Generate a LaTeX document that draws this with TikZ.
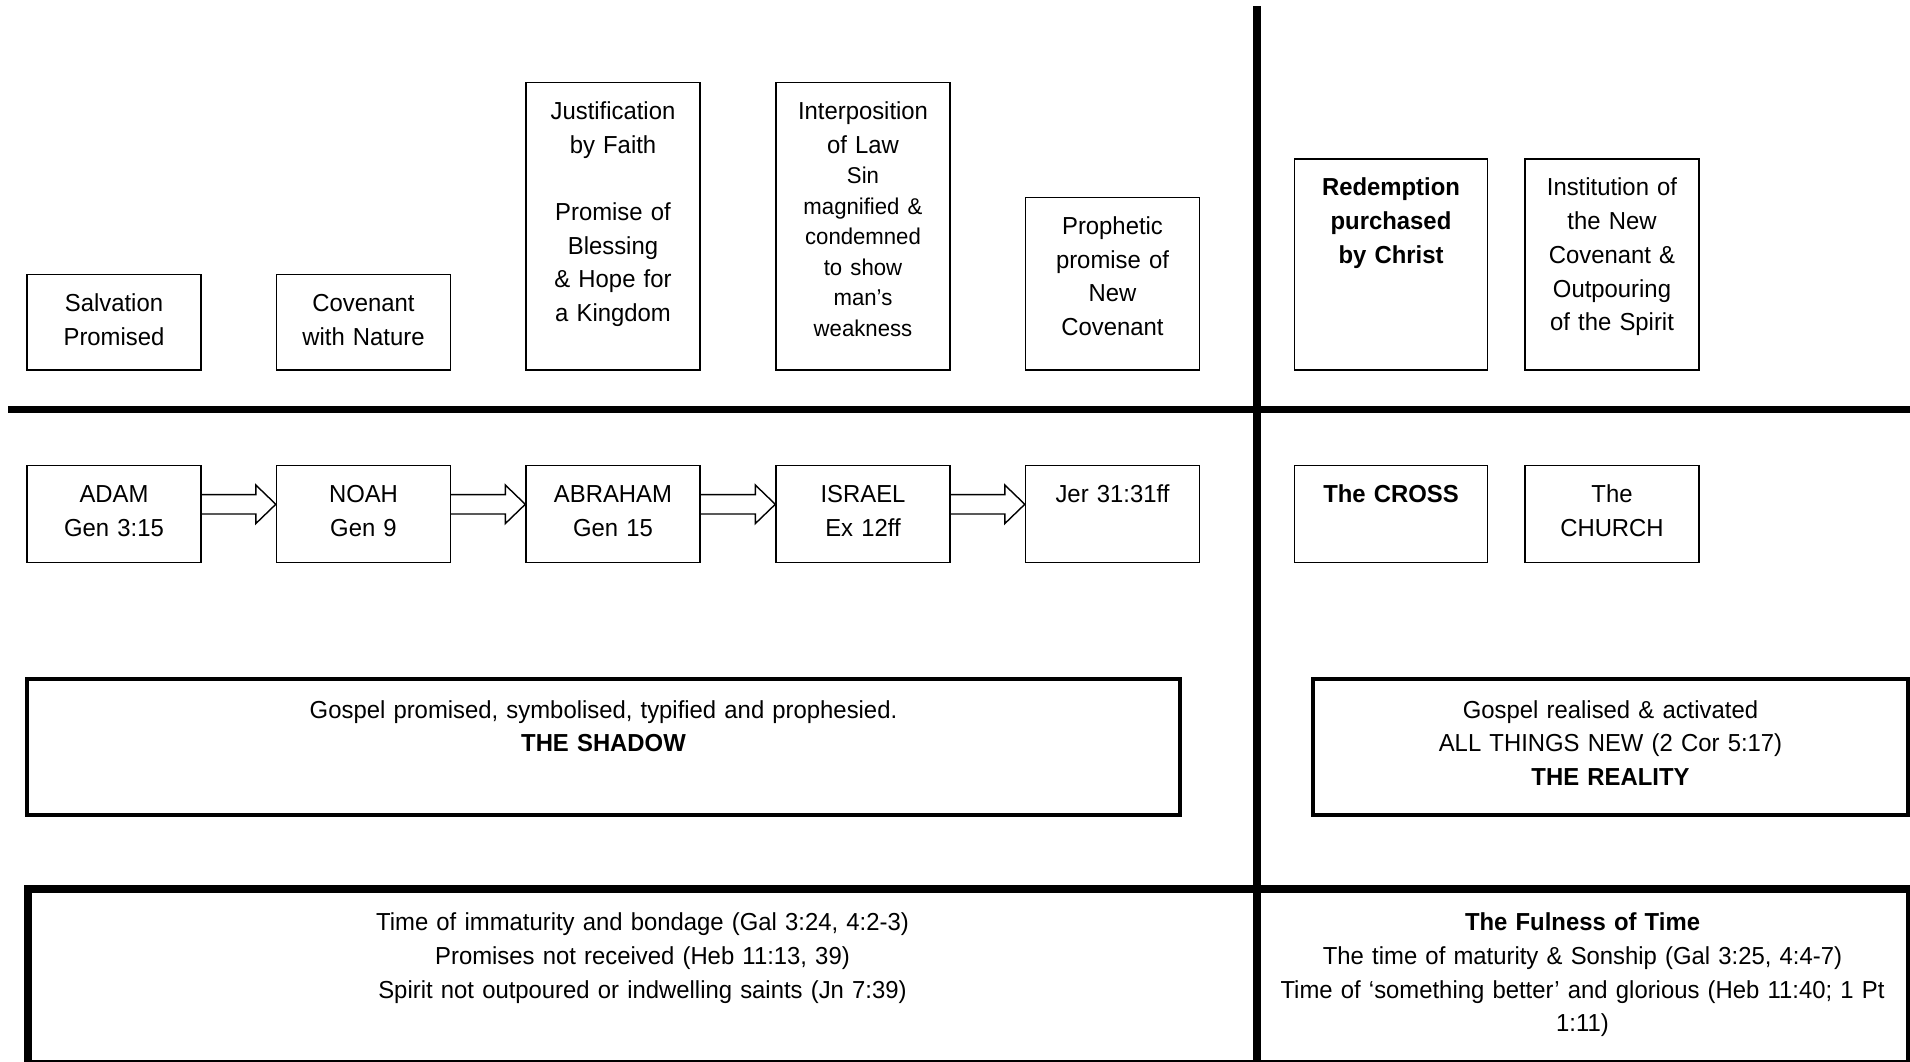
\documentclass[tikz,border=0pt]{standalone}
\usepackage{fontspec}
\setmainfont{Liberation Sans}[FakeStretch=0.97]
\usetikzlibrary{positioning}

\newcommand{\bodysize}{\fontsize{7pt}{9.6pt}\selectfont}
\newcommand{\smallsize}{\fontsize{6.5pt}{8.7pt}\selectfont}

\begin{document}
\begin{tikzpicture}[
    font=\bodysize,
    box/.style={draw, line width=.4pt, anchor=south, align=center,
      text width=1.74cm, inner sep=0pt,
      text height=3.7mm, text depth={#1-3.7mm}},
    panel/.style={draw, line width=1.15pt, anchor=north, align=center,
      inner sep=0pt, text height=3.9mm, text depth={#1-3.9mm}},
    cell/.style={anchor=north, align=center, inner sep=0pt, text height=4.1mm},
    rule/.style={line width=2.1pt},
    frame/.style={line width=1.15pt},
    hollow/.style={draw, line width=.4pt, to path={
        ([yshift=1.92mm]\tikztostart) -- ([xshift=-2mm,yshift=1.92mm]\tikztotarget)
        -- ([xshift=-2mm,yshift=2.88mm]\tikztotarget) -- ([yshift=.95mm]\tikztotarget)
        -- ([xshift=-2mm,yshift=-.98mm]\tikztotarget) -- ([xshift=-2mm,yshift=-.02mm]\tikztotarget)
        -- ([yshift=-.02mm]\tikztostart)}}
  ]

  \useasboundingbox (0,0) rectangle (19.1,10.61);
  \clip (0,0) rectangle (19.1,10.61);

  % what was given
  \begin{scope}
    \node[box=9.55mm]  (sal) at (1.14,6.905)   {Salvation\\Promised};
    \node[box=9.55mm]  (cov) at (3.635,6.905)  {Covenant\\with Nature};
    \node[box=28.75mm] (jus) at (6.13,6.905)   {Justification\\by Faith\\[9.6pt]Promise of\\Blessing\\\& Hope for\\a Kingdom};
    \node[box=28.75mm] (law) at (8.63,6.905)   {Interposition\\of Law\par\smallsize Sin\\magnified \&\\condemned\\to show\\man’s\\weakness\par};
    \node[box=17.25mm] (pro) at (11.125,6.905) {Prophetic\\promise of\\New\\Covenant};
    \node[box=21.1mm, text width=1.926cm, font=\bodysize\bfseries] (red) at (13.91,6.905) {Redemption\\purchased\\by Christ};
    \node[box=21.1mm]  (ins) at (16.12,6.905)  {Institution of\\the New\\Covenant \&\\Outpouring\\of the Spirit};
  \end{scope}

  % who and where
  \begin{scope}
    \node[box=9.7mm] (adam)   at (1.14,4.98)   {ADAM\\Gen 3:15};
    \node[box=9.7mm] (noah)   at (3.635,4.98)  {NOAH\\Gen 9};
    \node[box=9.7mm] (abr)    at (6.13,4.98)   {ABRAHAM\\Gen 15};
    \node[box=9.7mm] (isr)    at (8.63,4.98)   {ISRAEL\\Ex 12ff};
    \node[box=9.7mm] (jer)    at (11.125,4.98) {Jer 31:31ff};
    \node[box=9.7mm, text width=1.926cm, font=\bodysize\bfseries] (cross) at (13.91,4.98) {The CROSS};
    \node[box=9.7mm] (church) at (16.12,4.98)  {The\\CHURCH};

    \path (adam.east) edge[hollow] (noah.west);
    \path (noah.east) edge[hollow] (abr.west);
    \path (abr.east)  edge[hollow] (isr.west);
    \path (isr.east)  edge[hollow] (jer.west);
  \end{scope}

  \node[panel=13.6mm, text width=11.53cm] (shadow) at (6.035,3.84)
    {Gospel promised, symbolised, typified and prophesied.\\\textbf{THE SHADOW}};
  \node[panel=13.6mm, text width=5.95cm] (reality) at (16.105,3.84)
    {Gospel realised \& activated\\ALL THINGS NEW (2 Cor 5:17)\\\textbf{THE REALITY}};

  % dividers and the bottom frame
  \draw[rule] (0.08,6.515) -- (19.1,6.515);
  \draw[rule] (19.1,1.72) -- (0.28,1.72) -- (0.28,-0.1);
  \draw[frame] (19.08,1.72) -- (19.08,-0.01) -- (0.28,-0.01);
  \draw[rule] (12.57,10.55) -- (12.57,-0.1);

  \node[cell, text width=12cm] (bondage) at (6.425,1.72)
    {Time of immaturity and bondage (Gal 3:24, 4:2-3)\\Promises not received (Heb 11:13, 39)\\Spirit not outpoured or indwelling saints (Jn 7:39)};
  \node[cell, text width=6.4cm] (fulness) at (15.825,1.72)
    {\textbf{The Fulness of Time}\\The time of maturity \& Sonship (Gal 3:25, 4:4-7)\\Time of ‘something better’ and glorious (Heb 11:40; 1 Pt\\1:11)};

\end{tikzpicture}
\end{document}
